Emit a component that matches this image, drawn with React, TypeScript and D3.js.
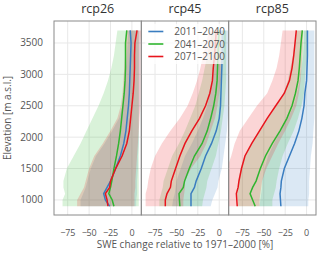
import * as d3 from 'd3';
import React from 'react';

// elevation bands [m a.s.l.]
const elevations = [900, 1000, 1100, 1200, 1300, 1500, 1700, 1900, 2100, 2300, 2500, 2700, 2900, 3100, 3300, 3500, 3700];

const scenarios = ['rcp26', 'rcp45', 'rcp85'];
const periods = ['2011–2040', '2041–2070', '2071–2100'];
const colors = ['#3a7dc0', '#2fb52f', '#e8141c'];

const xTicks = [-75, -50, -25, 0];
const yTicks = [1000, 1500, 2000, 2500, 3000, 3500];

// rcp26
const rcp26Mean1 = [-26, -31, -33, -29, -25, -19, -13.5, -9.5, -7, -5.5, -4, -3, -2.5, -2, -1.5, -1, -2];
const rcp26Mean2 = [-21, -23, -27, -25, -23.5, -21, -18, -15.5, -13.5, -12, -10.5, -9, -8, -7.5, -7.5, -7.5, -6];
const rcp26Mean3 = [-28, -29, -31, -26, -25, -19, -11.5, -6, -3, -1.5, 0, 1.5, 2.5, 3, 3, 3.5, 6];
const rcp26Lo1 = [-60, -60, -57, -54, -52, -48, -42, -32, -23, -15, -11, -9, -8, -7, -6, -5, -4];
const rcp26Hi1 = [5, 5, 6, 6, 6, 7, 7, 8, 8, 8, 9, 9, 9, 9, 9, 9, 9];
const rcp26Lo2 = [-81, -81, -78, -80, -80, -76, -68, -60, -53, -46, -39, -33, -28, -24, -21, -19, -17];
const rcp26Hi2 = [8, 8, 8, 8, 8, 8, 8, 8, 8, 8, 8, 8, 8, 8, 8, 8, 8];
const rcp26Lo3 = [-64, -64, -60, -56, -54, -50, -44, -34, -25, -17, -13, -11, -10, -9, -8, -7, -6];
const rcp26Hi3 = [3, 3, 3, 4, 4, 5, 6, 7, 8, 9, 10, 10, 10, 10, 10, 10, 11];

// rcp45
const rcp45Mean1 = [-33, -33, -33, -29, -27, -21, -16, -9, -3.5, 0, 1.5, 2, 2.5, 3, 3.5, 3.5, 3.5];
const rcp45Mean2 = [-46, -46.5, -47, -42, -40.5, -35, -29, -20, -14, -10, -6.5, -4, -2.5, -2, -1.5, -1, 0];
const rcp45Mean3 = [-63, -63, -61, -57, -56, -51, -46, -40, -32, -23, -16, -11, -8, -7, -5.5, -4.5, -3.5];
const rcp45Lo1 = [-55, -54, -52, -51, -50, -45, -40, -32, -25, -19, -14, -11, -8, -6, -5, -4, -3];
const rcp45Hi1 = [-10, -8, -5, -2, -1, 3, 5, 7, 9, 10, 11, 12, 12, 12, 12, 12, 12];
const rcp45Lo2 = [-70, -70, -68, -66, -65, -60, -55, -47, -40, -34, -28, -24, -20, -17, -14, -11, -8];
const rcp45Hi2 = [-20, -19, -17, -15, -14, -9, -4, -1, 2, 4, 6, 7, 8, 8, 8, 8, 8];
const rcp45Lo3 = [-86, -86, -86, -84, -83, -80, -75, -67, -57, -46, -37, -31, -26, -22, -19, -15, -12];
const rcp45Hi3 = [-42, -42, -41, -40, -40, -33, -22, -15, -10, -5, -2, 0, 2, 3, 3, 4, 4];

// rcp85
const rcp85Mean1 = [-30, -30.5, -31, -30, -29.5, -26, -20, -14, -9, -5.5, -3, -2, 0, 0.5, 1, 1, 1];
const rcp85Mean2 = [-60, -63, -66, -63, -59, -54, -48, -40, -31, -23, -17, -13, -10, -8.5, -7.5, -6.5, -5];
const rcp85Mean3 = [-81, -81.5, -82, -80, -79, -76, -72, -64, -55, -46, -36, -26, -20, -17, -15, -13.5, -12];
const rcp85Lo1 = [-55, -54, -53, -52, -52, -49, -45, -38, -30, -22, -15, -11, -8, -6, -4, -3, -3];
const rcp85Hi1 = [2, 2, 3, 3, 3, 4, 5, 7, 8, 9, 9, 9, 9, 9, 9, 9, 9];
const rcp85Lo2 = [-80, -80, -81, -80, -80, -77, -72, -64, -55, -45, -35, -27, -22, -19, -16, -14, -12];
const rcp85Hi2 = [-40, -40, -38, -36, -35, -32, -28, -22, -15, -10, -6, -3, -2, -1, 0, 1, 2];
const rcp85Lo3 = [-98, -98, -98, -97, -97, -93, -88, -84, -78, -68, -58, -46, -40, -35, -32, -30, -28];
const rcp85Hi3 = [-55, -55, -54, -53, -52, -47, -40, -33, -25, -18, -12, -9, -7, -6, -5, -4.5, -4];

const means = [
  [rcp26Mean1, rcp26Mean2, rcp26Mean3],
  [rcp45Mean1, rcp45Mean2, rcp45Mean3],
  [rcp85Mean1, rcp85Mean2, rcp85Mean3],
];
const lows = [
  [rcp26Lo1, rcp26Lo2, rcp26Lo3],
  [rcp45Lo1, rcp45Lo2, rcp45Lo3],
  [rcp85Lo1, rcp85Lo2, rcp85Lo3],
];
const highs = [
  [rcp26Hi1, rcp26Hi2, rcp26Hi3],
  [rcp45Hi1, rcp45Hi2, rcp45Hi3],
  [rcp85Hi1, rcp85Hi2, rcp85Hi3],
];

const W = 320;
const H = 255;
const margin = { top: 21, bottom: 40, left: 54, right: 4 };
const font = "'Open Sans', sans-serif";

export default function App() {
  const panelW = (W - margin.left - margin.right) / scenarios.length;

  const y = d3.scaleLinear().domain([760, 3850]).range([H - margin.bottom, margin.top]);

  const panels = scenarios.map((name, p) => {
    const x0 = margin.left + p * panelW;
    const x = d3.scaleLinear().domain([-91, 11]).range([x0, x0 + panelW]);

    const area = (lo: number[], hi: number[]) =>
      d3.area<number>()
        .y((d) => y(d))
        .x0((d, i) => x(lo[i]))
        .x1((d, i) => x(hi[i]))(elevations);

    const line = (m: number[]) =>
      d3.line<number>()
        .x((d, i) => x(m[i]))
        .y((d) => y(d))(elevations);

    return (
      <g key={name}>
        <clipPath id={'clip' + p}>
          <rect x={x0} y={margin.top} width={panelW} height={H - margin.bottom - margin.top} />
        </clipPath>
        {xTicks.map((t) => (
          <line key={'gx' + t} x1={x(t)} x2={x(t)} y1={margin.top} y2={H - margin.bottom} stroke="#e8e8e8" strokeWidth={1} />
        ))}
        {yTicks.map((t) => (
          <line key={'gy' + t} x1={x0} x2={x0 + panelW} y1={y(t)} y2={y(t)} stroke="#e8e8e8" strokeWidth={1} />
        ))}
        <g clipPath={`url(#clip${p})`}>
          {colors.map((c, s) => (
            <path key={'a' + s} d={area(lows[p][s], highs[p][s]) || ''} fill={c} fillOpacity={0.18} />
          ))}
          {colors.map((c, s) => (
            <path key={'l' + s} d={line(means[p][s]) || ''} fill="none" stroke={c} strokeWidth={1.5} />
          ))}
        </g>
        <rect x={x0} y={margin.top} width={panelW} height={H - margin.bottom - margin.top} fill="none" stroke="#8a8a8a" strokeWidth={1} />
        <text x={x0 + panelW / 2} y={13} textAnchor="middle" fontSize={12.5} fill="#333" fontFamily={font}>{name}</text>
        {xTicks.map((t) => (
          <text key={'tx' + t} x={x(t)} y={235.5} textAnchor="middle" fontSize={9} letterSpacing={-0.2} fill="#555" fontFamily={font}>
            {t < 0 ? '\u2212' + Math.abs(t) : t}
          </text>
        ))}
      </g>
    );
  });

  const legendX = margin.left + panelW + 7;

  return (
    <svg width={W} height={H} style={{ position: 'absolute', left: 0, top: 0, background: '#fff' }}>
      {panels}
      {yTicks.map((t) => (
        <text key={'ty' + t} x={43} y={y(t) + 3.5} textAnchor="end" fontSize={10} fill="#555" fontFamily={font}>{t}</text>
      ))}
      <g>
        <rect x={legendX - 3} y={24} width={78} height={40} fill="#fff" fillOpacity={0.75} />
        {periods.map((lab, i) => (
          <g key={lab}>
            <line x1={legendX} x2={legendX + 15} y1={31.5 + i * 12.5} y2={31.5 + i * 12.5} stroke={colors[i]} strokeWidth={1.6} />
            <text x={legendX + 26} y={35 + i * 12.5} fontSize={10} fill="#555" fontFamily={font}>{lab}</text>
          </g>
        ))}
      </g>
      <text x={margin.left + (W - margin.left - margin.right) / 2} y={248} textAnchor="middle" fontSize={10} fill="#555" fontFamily={font}>
        SWE change relative to 1971–2000 [%]
      </text>
      <text transform={`translate(11,${(margin.top + H - margin.bottom) / 2}) rotate(-90)`} textAnchor="middle" fontSize={10} fill="#555" fontFamily={font}>
        Elevation [m a.s.l.]
      </text>
    </svg>
  );
}
